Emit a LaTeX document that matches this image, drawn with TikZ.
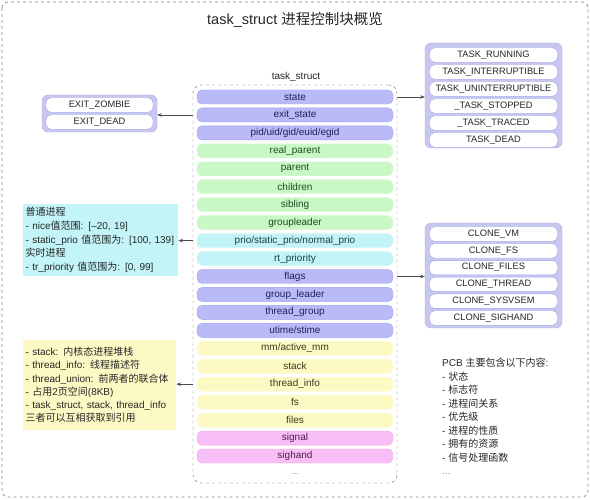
\documentclass[tikz,border=0pt]{standalone}
\usepackage{fontspec}
\setmainfont{Liberation Sans}
\newfontfamily\cjk{Noto Sans CJK SC}
\usetikzlibrary{arrows.meta}
\newcommand\zh[1]{{\cjk #1}}
\definecolor{pur}{HTML}{BABAF6}
\definecolor{purT}{HTML}{202060}
\definecolor{grn}{HTML}{C9F8C6}
\definecolor{grnT}{HTML}{1E4A1E}
\definecolor{cyn}{HTML}{C2F3F7}
\definecolor{cynT}{HTML}{1A4048}
\definecolor{yel}{HTML}{FCFAC2}
\definecolor{yelT}{HTML}{3A3A20}
\definecolor{pnk}{HTML}{F8BEF6}
\definecolor{pnkT}{HTML}{4E1C4E}
\definecolor{lav}{HTML}{C8C8EE}
\definecolor{cybox}{HTML}{C2F4F8}
\definecolor{yebox}{HTML}{FDF9C4}
\tikzset{
  rowbox/.style={rounded corners=5pt, minimum width=196pt, minimum height=14pt, inner sep=0pt, font=\fontsize{10}{12}\selectfont},
  rp/.style={rowbox, fill=pur, draw=pur!85!blue, text=purT},
  rg/.style={rowbox, fill=grn, draw=grn!70!white, text=grnT},
  rc/.style={rowbox, fill=cyn, draw=cyn!70!white, text=cynT},
  ry/.style={rowbox, fill=yel, draw=yel!70!white, text=yelT},
  rk/.style={rowbox, fill=pnk, draw=pnk!90!purple, text=pnkT},
  lavbox/.style={rounded corners=6pt, fill=lav, draw=lav!85!blue, inner sep=0pt},
  wrow/.style={rounded corners=5pt, fill=white, draw=lav!80!blue, line width=0.4pt, minimum width=128pt, minimum height=14.5pt, inner sep=0pt, text=black!85, font=\fontsize{9.3}{11}\selectfont},
  txtbox/.style={inner xsep=2.5pt, inner ysep=4pt, align=left, font=\fontsize{10}{13.6}\selectfont, text=black!85},
  arr/.style={-{Stealth[length=4.5pt,width=3.5pt]}, draw=black!70, line width=0.6pt},
}
\begin{document}
\begin{tikzpicture}[x=1pt,y=-1pt]
\useasboundingbox (0,0) rectangle (590,500);
\fill[white] (0,0) rectangle (590,500);
\draw[black!45, dashed, rounded corners=6pt, line width=0.7pt] (2,2) rectangle (588,497);
\node[font=\fontsize{14.5}{16}\selectfont, text=black!85] (title) at (295,20) {task\_struct \zh{进程控制块概览}};
\node[font=\fontsize{10}{12}\selectfont, text=black!85] (tslabel) at (296,77) {task\_struct};
\node[draw=black!60, dashed, rounded corners=8pt, minimum width=204pt, minimum height=398pt, inner sep=0pt] (ts) at (295,284) {};
\foreach \i/\s/\t in {0/rp/state, 1/rp/exit\_state, 2/rp/{pid/uid/gid/euid/egid}, 3/rg/real\_parent, 4/rg/parent, 5/rg/children, 6/rg/sibling, 7/rg/groupleader, 8/rc/{prio/static\_prio/normal\_prio}, 9/rc/rt\_priority, 10/rp/flags, 11/rp/group\_leader, 12/rp/thread\_group, 13/rp/{utime/stime}, 14/ry/{mm/active\_mm}, 15/ry/stack, 16/ry/thread\_info, 17/ry/fs, 18/ry/files, 19/rk/signal, 20/rk/sighand}
  \node[\s] (r\i) at (295,97+17.95*\i) {\t};
\node[text=black!45, font=\fontsize{9}{10}\selectfont] (dots) at (295,474) {...};
% state box
\node[lavbox, minimum width=137pt, minimum height=105pt] (stbox) at (493.5,95.5) {};
\foreach \i/\t in {0/TASK\_RUNNING, 1/TASK\_INTERRUPTIBLE, 2/TASK\_UNINTERRUPTIBLE, 3/\_TASK\_STOPPED, 4/\_TASK\_TRACED, 5/TASK\_DEAD}
  \node[wrow] (s\i) at (493.5,55+17*\i) {\t};
% clone box
\node[lavbox, minimum width=137pt, minimum height=105pt] (clbox) at (493.5,275.5) {};
\foreach \i/\t in {0/CLONE\_VM, 1/CLONE\_FS, 2/CLONE\_FILES, 3/CLONE\_THREAD, 4/CLONE\_SYSVSEM, 5/CLONE\_SIGHAND}
  \node[wrow] (c\i) at (493.5,234+16.8*\i) {\t};
% exit box
\node[lavbox, minimum width=115pt, minimum height=37pt] (exbox) at (99.5,113.5) {};
\node[wrow, minimum width=107pt] (e0) at (99.5,105) {EXIT\_ZOMBIE};
\node[wrow, minimum width=107pt] (e1) at (99.5,122) {EXIT\_DEAD};
% cyan note
\node[txtbox, fill=cybox, anchor=west, text width=150pt, minimum height=70pt] (prio) at (23,240)
  {\zh{普通进程}\\- nice\zh{值范围}: [–20, 19]\\- static\_prio \zh{值范围为}: [100, 139]\\\zh{实时进程}\\- tr\_priority \zh{值范围为}: [0, 99]};
% yellow note
\node[txtbox, fill=yebox, anchor=west, text width=148pt, minimum height=90pt, font=\fontsize{10}{13.2}\selectfont] (stk) at (23,385)
  {- stack: \zh{内核态进程堆栈}\\- thread\_info: \zh{线程描述符}\\- thread\_union: \zh{前两者的联合体}\\- \zh{占用}2\zh{页空间}(8KB)\\- task\_struct, stack, thread\_info\\\zh{三者可以互相获取到引用}};
% PCB note
\node[txtbox, anchor=north west, inner sep=0pt, font=\fontsize{10}{13.5}\selectfont] (pcb) at (442,358)
  {PCB \zh{主要包含以下内容}:\\- \zh{状态}\\- \zh{标志符}\\- \zh{进程间关系}\\- \zh{优先级}\\- \zh{进程的性质}\\- \zh{拥有的资源}\\- \zh{信号处理函数}\\\textcolor{black!45}{...}};
% connectors
\draw[arr] (r0.east -| ts.east) -- (r0.east -| stbox.west);
\draw[arr] (r10.east -| ts.east) -- (r10.east -| clbox.west);
\draw[arr] (r1.west -| ts.west) -- (exbox.east |- r1.west);
\draw[arr] (r8.west -| ts.west) -- (prio.east |- r8.west);
\draw[arr] (r16.west -| ts.west) -- (stk.east |- r16.west);
\end{tikzpicture}
\end{document}
